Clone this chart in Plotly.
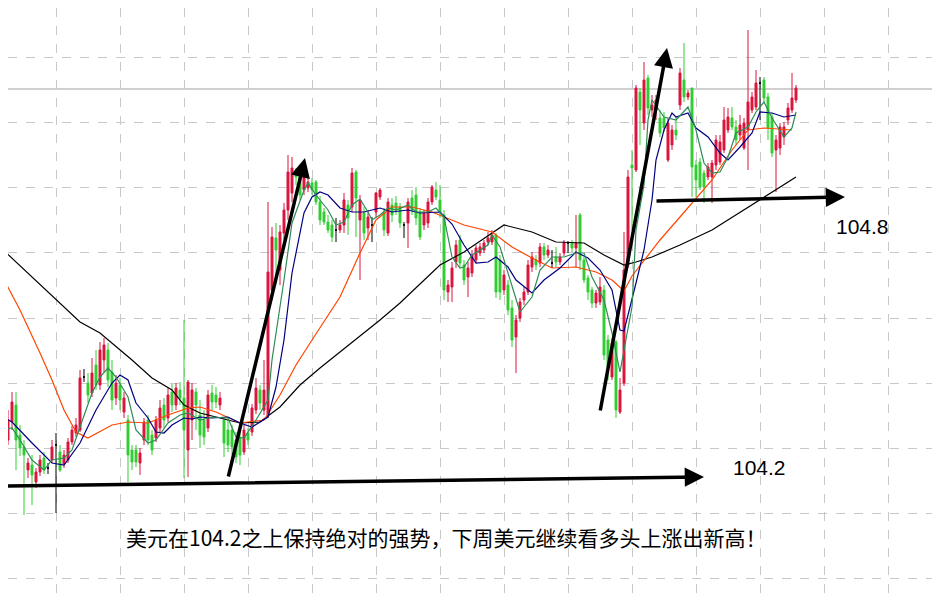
import plotly.graph_objects as go

# ---------------- data (prices) ----------------
open_ = [
104.316,104.346,104.320,104.356,104.390,104.330,104.306,104.260,104.270,104.236,
104.256,104.284,104.264,104.280,104.310,104.296,104.272,104.280,104.316,104.334,
104.340,104.446,104.434,104.414,104.470,104.430,104.480,104.500,104.456,104.404,
104.430,104.376,104.360,104.300,104.300,104.274,104.320,104.360,104.330,104.324,
104.344,104.390,104.364,104.416,104.390,104.420,104.404,104.300,104.360,104.416,
104.370,104.360,104.344,104.414,104.410,104.390,104.360,104.340,104.340,104.320,
104.324,104.296,104.334,104.336,104.380,104.420,104.380,104.370,104.620,104.724,
104.660,104.734,104.780,104.814,104.860,104.850,104.820,104.824,104.834,104.836,
104.796,104.776,104.756,104.750,104.740,104.740,104.750,104.790,104.786,104.856,
104.760,104.774,104.744,104.750,104.776,104.806,104.774,104.734,104.790,104.794,
104.786,104.750,104.754,104.804,104.810,104.776,104.750,104.754,104.796,104.820,
104.800,104.770,104.616,104.626,104.676,104.720,104.670,104.646,104.654,104.680,
104.694,104.700,104.716,104.716,104.730,104.680,104.620,104.630,104.584,104.526,
104.564,104.600,104.616,104.666,104.680,104.674,104.706,104.690,104.674,104.686,
104.676,104.694,104.714,104.714,104.704,104.770,104.680,104.644,104.620,104.594,
104.596,104.620,104.520,104.446,104.516,104.376,104.434,104.670,104.870,104.860,
105.016,104.954,105.044,104.980,104.980,104.964,104.964,104.880,104.910,104.940,
104.990,105.040,105.006,105.024,104.870,104.876,104.854,104.846,104.846,104.870,
104.876,104.900,104.940,104.964,104.946,104.930,104.904,104.940,104.980,104.986,
105.034,105.040,105.006,104.966,104.900,104.904,104.926,104.960,104.980,105.000]

high = [
104.350,104.364,104.380,104.416,104.416,104.350,104.320,104.284,104.290,104.264,
104.290,104.296,104.274,104.320,104.334,104.310,104.300,104.324,104.348,104.364,
104.460,104.462,104.454,104.484,104.500,104.516,104.524,104.514,104.480,104.450,
104.444,104.416,104.370,104.310,104.310,104.304,104.364,104.370,104.340,104.368,
104.400,104.404,104.424,104.432,104.434,104.436,104.560,104.440,104.434,104.424,
104.400,104.380,104.420,104.430,104.426,104.416,104.364,104.360,104.350,104.336,
104.340,104.350,104.344,104.392,104.444,104.430,104.480,104.796,104.746,104.754,
104.750,104.794,104.890,104.886,104.864,104.856,104.864,104.848,104.844,104.840,
104.808,104.784,104.770,104.760,104.764,104.760,104.814,104.800,104.864,104.860,
104.810,104.786,104.780,104.766,104.816,104.824,104.784,104.804,104.804,104.808,
104.794,104.756,104.804,104.820,104.826,104.784,104.780,104.804,104.830,104.836,
104.830,104.780,104.640,104.676,104.720,104.730,104.680,104.676,104.700,104.710,
104.714,104.720,104.736,104.740,104.734,104.690,104.660,104.640,104.600,104.570,
104.604,104.626,104.680,104.696,104.690,104.714,104.714,104.710,104.700,104.706,
104.694,104.720,104.718,104.720,104.770,104.774,104.686,104.650,104.626,104.620,
104.646,104.630,104.530,104.524,104.520,104.444,104.736,104.860,104.900,105.030,
105.024,105.076,105.050,105.010,105.010,104.980,104.976,104.964,104.950,104.966,
105.064,105.114,105.020,105.024,104.880,104.884,104.860,104.874,104.880,104.930,
104.930,104.986,104.984,104.986,104.960,104.970,104.964,105.140,105.016,105.060,
105.046,105.046,105.014,104.974,104.930,104.954,104.956,104.994,105.054,105.030]

low = [
104.308,104.320,104.310,104.340,104.260,104.288,104.170,104.244,104.190,104.224,
104.248,104.252,104.252,104.274,104.174,104.256,104.264,104.274,104.310,104.326,
104.336,104.436,104.394,104.406,104.420,104.420,104.456,104.426,104.380,104.390,
104.380,104.364,104.236,104.260,104.266,104.250,104.310,104.310,104.290,104.316,
104.336,104.344,104.356,104.376,104.380,104.390,104.244,104.246,104.320,104.340,
104.304,104.310,104.336,104.380,104.384,104.380,104.286,104.296,104.290,104.274,
104.270,104.290,104.310,104.328,104.372,104.380,104.370,104.364,104.600,104.634,
104.630,104.720,104.760,104.796,104.830,104.800,104.810,104.816,104.810,104.790,
104.750,104.750,104.734,104.716,104.716,104.734,104.734,104.730,104.776,104.726,
104.640,104.720,104.720,104.716,104.764,104.800,104.728,104.728,104.756,104.770,
104.744,104.724,104.704,104.770,104.750,104.720,104.740,104.744,104.790,104.800,
104.764,104.600,104.596,104.596,104.664,104.664,104.630,104.606,104.646,104.674,
104.688,104.694,104.710,104.710,104.604,104.600,104.610,104.570,104.506,104.454,
104.556,104.590,104.610,104.656,104.660,104.666,104.680,104.684,104.664,104.666,
104.670,104.688,104.694,104.696,104.666,104.660,104.634,104.600,104.584,104.584,
104.590,104.480,104.440,104.440,104.364,104.372,104.428,104.664,104.740,104.856,
104.910,104.940,104.970,104.966,104.960,104.926,104.936,104.876,104.900,104.920,
104.980,104.996,105.000,104.806,104.806,104.820,104.794,104.840,104.794,104.860,
104.870,104.894,104.934,104.940,104.910,104.920,104.900,104.860,104.974,104.980,
104.960,104.994,104.920,104.886,104.816,104.890,104.910,104.950,104.974,104.994]

close = [
104.336,104.346,104.360,104.396,104.320,104.304,104.290,104.274,104.250,104.256,
104.280,104.260,104.264,104.306,104.310,104.260,104.290,104.316,104.340,104.350,
104.444,104.446,104.410,104.454,104.430,104.500,104.510,104.440,104.400,104.434,
104.400,104.404,104.290,104.276,104.276,104.294,104.356,104.320,104.300,104.360,
104.384,104.360,104.410,104.390,104.424,104.404,104.340,104.436,104.420,104.390,
104.330,104.326,104.410,104.396,104.396,104.404,104.314,104.310,104.306,104.286,
104.290,104.340,104.320,104.384,104.424,104.394,104.420,104.656,104.726,104.700,
104.736,104.780,104.856,104.864,104.846,104.810,104.846,104.836,104.820,104.796,
104.760,104.756,104.740,104.726,104.740,104.750,104.800,104.764,104.854,104.804,
104.800,104.734,104.766,104.750,104.814,104.820,104.740,104.796,104.770,104.780,
104.754,104.750,104.796,104.780,104.764,104.726,104.774,104.796,104.826,104.806,
104.774,104.620,104.630,104.664,104.710,104.674,104.640,104.664,104.690,104.704,
104.706,104.714,104.724,104.730,104.616,104.616,104.650,104.580,104.520,104.560,
104.596,104.616,104.670,104.686,104.670,104.706,104.690,104.700,104.674,104.676,
104.686,104.714,104.714,104.704,104.714,104.680,104.640,104.616,104.594,104.614,
104.626,104.490,104.466,104.514,104.380,104.420,104.660,104.846,104.864,105.024,
104.980,105.040,104.984,104.990,105.000,104.934,104.944,104.954,104.940,104.930,
105.054,105.006,105.014,104.866,104.840,104.826,104.826,104.866,104.874,104.920,
104.916,104.960,104.966,104.946,104.920,104.950,104.954,104.996,105.006,105.034,
105.034,105.004,104.944,104.894,104.920,104.946,104.946,104.984,105.004,105.024]

bar_index = list(range(len(close)))

# moving-average lines (bar index, price)
ma_fast_x = [0,3,5,8,11,13,16,18,20,23,25,27,29,32,34,37,39,42,45,47,50,53,57,59,61,64,67,68,71,73,
             76,77,79,82,84,86,88,90,92,93,95,97,99,102,104,107,109,111,113,115,116,118,122,123,125,128,130,
             133,135,138,141,144,146,148,151,153,155,156,158,159,161,162,163,166,169,172,174,176,178,180,
             182,184,187,189,191,193,196,198,199]
ma_fast_y = [104.340,104.344,104.320,104.280,104.260,104.280,104.284,104.300,104.346,104.414,
             104.446,104.464,104.446,104.406,104.340,104.314,104.320,104.354,104.370,104.374,
             104.360,104.366,104.364,104.326,104.324,104.360,104.400,104.480,104.640,104.754,
             104.820,104.834,104.810,104.780,104.750,104.756,104.790,104.802,104.776,104.760,
             104.770,104.784,104.780,104.790,104.776,104.776,104.784,104.766,104.686,104.664,
             104.666,104.690,104.710,104.730,104.706,104.626,104.576,104.606,104.660,104.686,
             104.686,104.694,104.694,104.646,104.600,104.534,104.456,104.500,104.586,104.740,
             104.830,104.960,105.000,104.966,104.960,104.986,104.940,104.874,104.854,104.856,
             104.886,104.934,104.946,104.976,104.996,104.964,104.926,104.944,104.976]

ma_mid_x = [0,3,8,13,16,20,24,28,30,32,34,37,39,41,43,46,48,50,53,57,60,63,67,69,71,73,76,78,80,82,
            85,88,91,95,98,102,105,110,113,116,119,122,124,127,129,133,136,140,144,147,150,153,155,156,
            159,161,163,164,166,168,169,172,174,177,180,182,185,188,190,193,196,199]
ma_mid_y = [104.370,104.356,104.314,104.274,104.270,104.314,104.380,104.434,104.450,104.440,
            104.394,104.364,104.336,104.334,104.350,104.364,104.362,104.366,104.364,104.366,
            104.354,104.346,104.366,104.426,104.520,104.654,104.774,104.806,104.816,104.810,
            104.784,104.776,104.776,104.784,104.776,104.780,104.774,104.776,104.752,104.710,
            104.674,104.676,104.686,104.666,104.640,104.614,104.640,104.664,104.696,104.684,
            104.660,104.620,104.540,104.538,104.634,104.700,104.800,104.880,104.940,104.974,
            104.966,104.974,104.944,104.926,104.894,104.880,104.906,104.934,104.976,104.974,
            104.966,104.970]

ma_slow_x = [0,5,10,13,16,19,22,28,32,37,42,47,50,54,60,66,70,74,78,85,90,94,98,103,108,116,123,
             128,133,138,144,149,153,156,158,162,165,170,173,178,183,187,191,198]
ma_slow_y = [104.656,104.580,104.494,104.440,104.380,104.336,104.324,104.350,104.356,104.354,
             104.370,104.384,104.386,104.376,104.354,104.360,104.410,104.470,104.520,104.606,
             104.694,104.760,104.786,104.786,104.776,104.750,104.736,104.706,104.684,104.664,
             104.666,104.656,104.640,104.618,104.648,104.690,104.720,104.766,104.794,104.840,
             104.900,104.940,104.944,104.940]

ma_long_x = [0,8,20,25,30,33,38,43,46,50,60,65,70,75,80,85,89,95,100,110,116,126,133,139,146,151,
             156,159,163,170,178,190,199]
ma_long_y = [104.706,104.646,104.556,104.534,104.500,104.480,104.444,104.420,104.390,104.374,
             104.354,104.356,104.386,104.430,104.464,104.496,104.520,104.560,104.594,104.670,
             104.696,104.750,104.736,104.716,104.714,104.690,104.670,104.676,104.686,104.710,
             104.740,104.800,104.846]

last_price = 105.022

# hand-drawn arrows: (tail bar, tail price, head bar, head price)
arrow_lines = [
    (1.25, 104.228, 176.0, 104.246),
    (57.0, 104.244, 76.25, 104.884),
    (150.0, 104.376, 166.75, 105.104),
    (163.75, 104.798, 211.25, 104.806),
]
level_labels = [("104.2", 189.75, 104.266), ("104.8", 215.5, 104.748)]
caption = "美元在104.2之上保持绝对的强势，下周美元继续看多头上涨出新高！"

UP = "#DC143C"
DOWN = "#32CD32"

# the page body keeps an 8 px margin, so the figure is 8 px smaller
W, H, PAD = 940, 600, 8

fig = go.Figure()

def subset(cond):
    ids = [i for i in bar_index if cond(i)]
    return (ids, [open_[i] for i in ids], [high[i] for i in ids],
            [low[i] for i in ids], [close[i] for i in ids])

groups = [
    (lambda i: abs(open_[i] - close[i]) < 1e-9, "#000000", "#000000"),
    (lambda i: abs(open_[i] - close[i]) >= 1e-9, UP, DOWN),
]
for cond, inc, dec in groups:
    x, o, h, l, c = subset(cond)
    fig.add_trace(go.Candlestick(
        x=x, open=o, high=h, low=l, close=c, whiskerwidth=0,
        increasing=dict(line=dict(color=inc, width=1), fillcolor=inc),
        decreasing=dict(line=dict(color=dec, width=1), fillcolor=dec),
        showlegend=False, hoverinfo="skip"))

for xs, ys, col in [(ma_long_x, ma_long_y, "#000000"),
                    (ma_slow_x, ma_slow_y, "#FF4500"),
                    (ma_mid_x, ma_mid_y, "#000080"),
                    (ma_fast_x, ma_fast_y, "#2E8B57")]:
    fig.add_trace(go.Scatter(x=xs, y=ys, mode="lines",
                             line=dict(color=col, width=1.2),
                             showlegend=False, hoverinfo="skip"))

fig.add_shape(type="line", xref="paper", x0=0, x1=1, y0=last_price, y1=last_price,
              line=dict(color="#C0C0C0", width=1.5), layer="below")

for tx, ty, hx, hy in arrow_lines:
    fig.add_annotation(x=hx, y=hy, ax=tx, ay=ty, xref="x", yref="y",
                       axref="x", ayref="y", text="", showarrow=True,
                       arrowhead=2, arrowsize=1.1, arrowwidth=3.5,
                       arrowcolor="#000000", standoff=0, startstandoff=0)

for txt, lx, ly in level_labels:
    fig.add_annotation(x=lx, y=ly, xref="x", yref="y", text=txt, showarrow=False,
                       xanchor="center", yanchor="middle",
                       font=dict(family="Liberation Sans, Arial, sans-serif", size=21,
                                 color="#000000"))

fig.add_annotation(x=(446 - PAD) / (W - PAD), y=1 - (537 - PAD) / (H - PAD),
                   xref="paper", yref="paper", xanchor="center", yanchor="middle",
                   text=caption, showarrow=False,
                   font=dict(family="Noto Sans CJK SC, sans-serif", size=21,
                             color="#000000"))

grid = dict(showgrid=True, gridcolor="#C8C8C8", griddash="dash", gridwidth=1,
            zeroline=False, showticklabels=False, ticks="", showline=False)

fig.update_layout(
    width=W - PAD, height=H - PAD,
    margin=dict(l=0, r=0, t=0, b=0),
    paper_bgcolor="#FFFFFF", plot_bgcolor="#FFFFFF",
    xaxis=dict(range=[2, 235], tick0=14, dtick=16,
               rangeslider=dict(visible=False), **grid),
    yaxis=dict(range=[104.0, 105.184], tick0=105.0854, dtick=0.1304, **grid),
    showlegend=False,
)

fig.write_html("out.html")
